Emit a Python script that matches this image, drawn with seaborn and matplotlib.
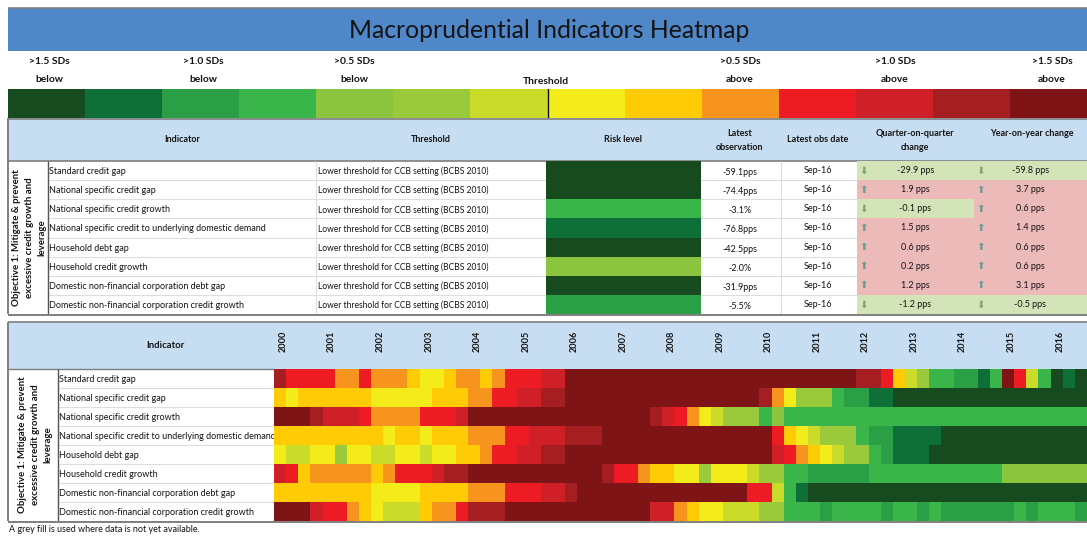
import matplotlib
matplotlib.use("Agg")
import matplotlib.pyplot as plt
from matplotlib.colors import ListedColormap
from matplotlib.patches import Rectangle
import numpy as np
import seaborn as sns

sns.set_theme(style="white")
plt.rcParams['font.family'] = ['Lato', 'DejaVu Sans']

TITLE = "Macroprudential Indicators Heatmap"
PALETTE = ["#174A1E", "#0F6F38", "#2A9F46", "#3AB54A", "#8BC53F", "#9ACA3C", "#CBDB2A",
           "#F4EB1A", "#FFCB05", "#F7941D", "#ED1C24", "#CF2027", "#A51E22", "#7E1416"]
INDICATORS = ["Standard credit gap", "National specific credit gap", "National specific credit growth",
              "National specific credit to underlying domestic demand", "Household debt gap",
              "Household credit growth", "Domestic non-financial corporation debt gap",
              "Domestic non-financial corporation credit growth"]
THRESHOLD = "Lower threshold for CCB setting (BCBS 2010)"
RISK = [0, 0, 3, 1, 0, 4, 0, 2]
LATEST = ["-59.1pps", "-74.4pps", "-3.1%", "-76.8pps", "-42.5pps", "-2.0%", "-31.9pps", "-5.5%"]
OBS_DATE = "Sep-16"
QOQ = [-29.9, 1.9, -0.1, 1.5, 0.6, 0.2, 1.2, -1.2]
YOY = [-59.8, 3.7, 0.6, 1.4, 0.6, 0.6, 3.1, -0.5]
YEARS = list(range(2000, 2017))
SCALE_LABELS = [">1.5 SDs\nbelow", ">1.0 SDs\nbelow", ">0.5 SDs\nbelow",
                ">0.5 SDs\nabove", ">1.0 SDs\nabove", ">1.5 SDs\nabove"]
OBJECTIVE = "Objective 1: Mitigate & prevent\nexcessive credit growth and\nleverage"
FOOTNOTE = "A grey fill is used where data is not yet available."

# history rows as (level, number of quarters) runs, 2000Q1 to 2016Q3
R1 = [(12,1),(10,4),(9,2),(10,1),(9,3),(8,1),(7,2),(8,1),(9,2),(8,1),(9,1),(10,3),(11,2),(13,24),
      (12,2),(10,1),(8,1),(6,1),(5,1),(3,2),(2,2),(1,1),(3,1),(13,1),(10,1),(6,1),(3,1),(0,1),(1,1),(0,1)]
R2 = [(8,1),(7,1),(8,6),(7,5),(8,3),(9,2),(10,2),(11,2),(12,2),(13,16),(12,1),(9,1),(7,1),(5,3),(3,1),(2,2),(1,2),(0,16)]
R3 = [(13,3),(12,1),(11,3),(10,1),(9,4),(10,3),(11,1),(13,15),(12,1),(11,1),(10,1),(9,1),(7,1),(6,1),(5,3),(3,1),(4,1),(3,25)]
R4 = [(8,9),(7,1),(8,2),(7,1),(8,3),(9,3),(10,2),(11,3),(12,3),(13,14),(10,1),(8,1),(7,1),(6,1),(5,3),(3,1),(2,2),(1,4),(0,12)]
R5 = [(7,1),(6,2),(7,2),(5,1),(7,2),(6,2),(7,2),(6,1),(7,2),(8,2),(9,1),(10,2),(11,2),(12,2),(13,17),(11,1),(10,1),(9,1),
      (8,1),(7,1),(6,1),(5,2),(3,1),(2,1),(1,3),(0,13)]
R6 = [(11,1),(10,1),(8,1),(9,5),(8,1),(9,1),(10,3),(11,1),(12,2),(13,11),(12,1),(10,2),(9,1),(8,2),(7,2),(5,1),(7,3),(6,1),
      (5,2),(3,2),(2,5),(3,11),(4,7)]
R7 = [(8,8),(7,4),(8,4),(9,3),(10,3),(11,2),(12,1),(13,14),(10,2),(6,1),(3,1),(1,1),(0,23)]
R8 = [(13,3),(11,1),(10,2),(9,1),(8,1),(7,1),(6,3),(8,1),(9,2),(10,1),(12,3),(13,12),(11,2),(9,1),(8,1),(7,2),(6,3),(5,2),
      (3,3),(2,1),(3,4),(2,1),(3,2),(2,1),(3,1),(2,6),(3,1),(2,1),(3,3),(2,1)]
HISTORY_RUNS = [R1, R2, R3, R4, R5, R6, R7, R8]

W, H = 1087, 536
fig = plt.figure(figsize=(W / 100, H / 100), dpi=100, facecolor="white")
cmap = ListedColormap(PALETTE)
BLUE, PALE = "#4F87C8", "#C7DDF1"
BORDER, RULE = "#7F7F7F", "#DEDEDE"
INK = "#141414"

bg = fig.add_axes([0, 0, 1, 1])
bg.set_xlim(0, W); bg.set_ylim(H, 0); bg.axis("off")


def box(x0, y0, x1, y1):
    return fig.add_axes([x0 / W, 1 - y1 / H, (x1 - x0) / W, (y1 - y0) / H])


def rect(x0, y0, x1, y1, fc="none", ec="none", lw=0):
    bg.add_patch(Rectangle((x0, y0), x1 - x0, y1 - y0, facecolor=fc, edgecolor=ec, linewidth=lw))


def hline(y, x0, x1, c=RULE, lw=0.8):
    bg.plot([x0, x1], [y, y], color=c, lw=lw, solid_capstyle="butt")


def vline(x, y0, y1, c=RULE, lw=0.8):
    bg.plot([x, x], [y0, y1], color=c, lw=lw, solid_capstyle="butt")


def label(x, y, s, size=6.3, weight="normal", ha="center", **kw):
    bg.text(x, y, s, fontsize=size, fontweight=weight, ha=ha, va="center", color=INK, **kw)


def level_map(ax, values, **kw):
    sns.heatmap(values, ax=ax, cmap=cmap, vmin=-0.5, vmax=13.5, cbar=False,
                xticklabels=False, yticklabels=False, **kw)
    ax.set_xlabel(""); ax.set_ylabel("")


# title band
rect(8, 8, W, 51, fc=BLUE)
hline(8, 8, W, BORDER, 1.2)
label(549, 31, TITLE, size=17.8)

# colour scale
scale_ax = box(8, 89, W, 118)
level_map(scale_ax, np.array([list(range(len(PALETTE)))]))
scale_ax.axvline(7, color="#111111", lw=1)
for x, s in zip([49, 203, 354, 740, 895, 1052], SCALE_LABELS):
    a, b = s.split("\n")
    label(x, 62, a, size=7.4, weight="bold")
    label(x, 80, b, size=7.4, weight="bold")
label(546, 82, "Threshold", size=7.4, weight="bold")

# current table
top0, top1, rows_h = 161, 314, 153 / 8
rect(8, 118, W, top0, fc=PALE)
hline(118.5, 8, W, BORDER, 1.2)
hline(top0, 8, W, BORDER, 1.2)
for x, y, s in [(182, 140, "Indicator"), (431, 140, "Threshold"), (623, 140, "Risk level"),
                (740, 133, "Latest"), (740, 147, "observation"), (818, 140, "Latest obs date"),
                (915, 133, "Quarter-on-quarter"), (915, 147, "change"), (1032, 133, "Year-on-year change")]:
    label(x, y, s, size=6.5, weight="bold")

for i in range(8):
    y = top0 + rows_h * (i + 0.5) + 1
    label(49, y, INDICATORS[i], size=6.5, ha="left")
    label(318, y, THRESHOLD, size=6.15, ha="left")
    label(740, y + 1, LATEST[i], size=6.5)
    label(818, y - 1, OBS_DATE, size=6.5)
    if i:
        hline(top0 + rows_h * i, 47, 546)
        hline(top0 + rows_h * i, 700, 857)

risk_ax = box(546, top0, 700.5, top1)
level_map(risk_ax, np.array(RISK).reshape(-1, 1))

change_cmap = ListedColormap(["#D3E4B8", "#EDBABA"])
for vals, x0, x1 in [(QOQ, 857, 974), (YOY, 974, W)]:
    ax = box(x0, top0, x1, top1)
    annot = np.array([[f"{v:.1f} pps"] for v in vals])
    sns.heatmap(np.array([[1 if v > 0 else 0] for v in vals]), ax=ax, cmap=change_cmap, vmin=0, vmax=1,
                cbar=False, xticklabels=False, yticklabels=False, annot=annot, fmt="",
                annot_kws={"fontsize": 6.5, "color": INK})
    for i, v in enumerate(vals):
        ax.text(0.06, i + 0.5, "⬆" if v > 0 else "⬇", fontsize=7.5, family="DejaVu Sans",
                color="#6C9A95" if v > 0 else "#7FA56E", ha="center", va="center")

vline(47.5, top0, top1, "#555555", 1)
vline(316, top0, top1)
vline(781, top0, top1)
bg.text(29.5, (top0 + top1) / 2, OBJECTIVE, rotation=90, fontsize=6.9, fontweight="bold", color=INK,
        ha="center", va="center", multialignment="center", linespacing=1.5)
vline(8, 118, top1, BORDER, 1.4)
hline(top1 + 0.5, 8, W, BORDER, 1.4)

# history table
head0, hist0, hist1 = 322, 369, 521
rect(8, head0, W, hist0, fc=PALE)
hline(head0, 8, W, BORDER, 1.2)
hline(hist0, 8, 274, BORDER, 1)
label(165, 346, "Indicator", size=6.8, weight="bold")
hist_h = (hist1 - hist0) / 8
for i, name in enumerate(INDICATORS):
    y = hist0 + hist_h * (i + 0.5) + 1
    label(59, y, name, size=6.5, ha="left")
    if i:
        hline(hist0 + hist_h * i, 58, 274)
vline(58, hist0, hist1, "#555555", 1)
vline(8, head0, hist1, BORDER, 1.4)
hline(hist1 + 0.5, 8, W, BORDER, 1.4)
bg.text(35.5, (hist0 + hist1) / 2, OBJECTIVE, rotation=90, fontsize=6.9, fontweight="bold", color=INK,
        ha="center", va="center", multialignment="center", linespacing=1.5)

history = np.array([[lvl for lvl, n in row for _ in range(n)] for row in HISTORY_RUNS])
hist_ax = box(274, hist0, W, hist1)
level_map(hist_ax, history)
hist_ax.xaxis.tick_top()
hist_ax.set_xticks([4 * k + 0.75 for k in range(len(YEARS))])
hist_ax.set_xticklabels(YEARS, rotation=90, fontsize=6.6, fontweight="bold", color=INK)
hist_ax.tick_params(axis="x", length=0, pad=12, top=False, bottom=False, labeltop=True, labelbottom=False)

label(9, 530, FOOTNOTE, size=6.5, ha="left")

fig.savefig("out.png", dpi=100, facecolor="white")
